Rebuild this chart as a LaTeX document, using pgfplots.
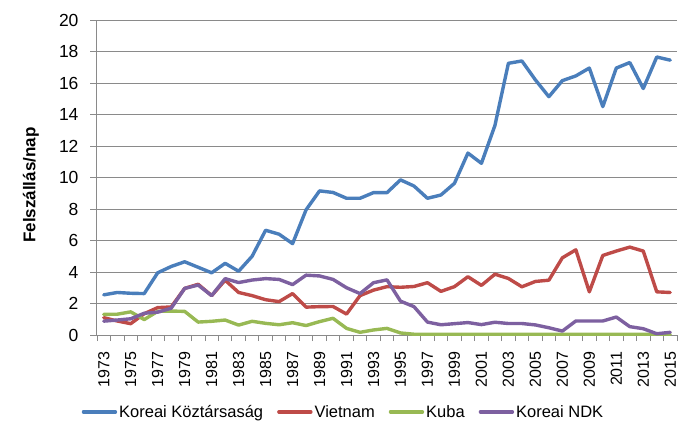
\documentclass[border=0pt]{standalone}
\usepackage{pgfplots}
\pgfplotsset{compat=1.18}
\usepackage{pgfplotstable}
\usepackage{fontspec}
\setmainfont{Liberation Sans}
\definecolor{cblue}{HTML}{4A7EBB}
\definecolor{cred}{HTML}{BE4B48}
\definecolor{cgreen}{HTML}{98B954}
\definecolor{cpurple}{HTML}{7D60A0}
\definecolor{cgrid}{HTML}{8A8A8A}
\pgfplotstableread{
year korea vietnam kuba ndk
1973 2.55 1.10 1.31 0.88
1974 2.70 0.89 1.32 0.95
1975 2.65 0.72 1.47 1.03
1976 2.63 1.35 0.98 1.38
1977 3.95 1.74 1.50 1.45
1978 4.35 1.78 1.52 1.70
1979 4.65 2.96 1.50 2.96
1980 4.30 3.22 0.82 3.17
1981 3.95 2.50 0.87 2.50
1982 4.55 3.48 0.95 3.58
1983 4.05 2.70 0.63 3.33
1984 5.00 2.50 0.87 3.49
1985 6.65 2.24 0.74 3.58
1986 6.40 2.12 0.65 3.53
1987 5.80 2.63 0.78 3.20
1988 7.95 1.77 0.60 3.80
1989 9.15 1.80 0.85 3.75
1990 9.05 1.81 1.06 3.53
1991 8.68 1.33 0.42 3.00
1992 8.68 2.50 0.17 2.63
1993 9.04 2.85 0.32 3.32
1994 9.04 3.07 0.42 3.50
1995 9.85 3.03 0.13 2.15
1996 9.46 3.08 0.05 1.80
1997 8.68 3.32 0.05 0.82
1998 8.89 2.77 0.05 0.65
1999 9.63 3.07 0.05 0.72
2000 11.55 3.70 0.05 0.79
2001 10.90 3.15 0.05 0.66
2002 13.30 3.86 0.05 0.81
2003 17.25 3.59 0.05 0.73
2004 17.40 3.06 0.05 0.73
2005 16.20 3.40 0.05 0.64
2006 15.13 3.48 0.05 0.46
2007 16.15 4.90 0.05 0.25
2008 16.45 5.41 0.05 0.89
2009 16.95 2.74 0.05 0.89
2010 14.50 5.05 0.05 0.89
2011 16.95 5.33 0.05 1.14
2012 17.30 5.58 0.05 0.53
2013 15.65 5.33 0.05 0.40
2014 17.65 2.74 0.05 0.08
2015 17.45 2.70 0.05 0.17
}\data
\begin{document}
\begin{tikzpicture}
\begin{axis}[
  scale only axis,
  width=580pt, height=315pt,
  xmin=1972.5, xmax=2015.5,
  ymin=0, ymax=20,
  clip=false,
  axis x line*=bottom, axis y line*=left,
  axis line style={draw=cgrid, line width=1pt},
  xtick={1973,1975,...,2015},
  minor xtick={1972.5,1973.5,...,2015.5},
  major x tick style={draw=none},
  minor x tick style={draw=cgrid, line width=0.8pt},
  minor tick length=6pt,
  ytick={0,2,...,20},
  y tick style={draw=cgrid, line width=0.8pt},
  major tick length=7pt,
  tick align=outside,
  ymajorgrids,
  grid style={draw=cgrid, line width=1pt},
  /pgf/number format/assume math mode=true,
  xticklabel style={rotate=90, anchor=east, font=\fontsize{16pt}{18pt}\selectfont, /pgf/number format/1000 sep={}, xshift=-6pt},
  yticklabel style={font=\fontsize{17.5pt}{20pt}\selectfont, xshift=-8pt},
  ylabel={\textbf{Felszállás/nap}},
  ylabel style={at={(axis description cs:-0.114,0.476)}, anchor=center, font=\fontsize{17pt}{20pt}\selectfont},
  legend columns=4,
  legend style={draw=none, fill=none, at={(axis description cs:0.425,-0.244)}, anchor=center,
    font=\fontsize{16.5pt}{18pt}\selectfont,
    /tikz/every even column/.append style={column sep=12pt},
    inner sep=0pt},
  legend image code/.code={\draw[#1, line width=3.4pt] (0pt,0pt) -- (32pt,0pt);},
  every axis plot/.append style={line width=3.4pt, line join=round, line cap=round},
]
\addplot[cblue] table[x=year, y=korea] {\data};
\addlegendentry{Koreai Köztársaság}
\addplot[cred] table[x=year, y=vietnam] {\data};
\addlegendentry{Vietnam}
\addplot[cgreen] table[x=year, y=kuba] {\data};
\addlegendentry{Kuba}
\addplot[cpurple] table[x=year, y=ndk] {\data};
\addlegendentry{Koreai NDK}
\end{axis}
\pgfresetboundingbox
\path (-97pt,-91pt) rectangle (583pt,335pt);
\end{tikzpicture}
\end{document}
